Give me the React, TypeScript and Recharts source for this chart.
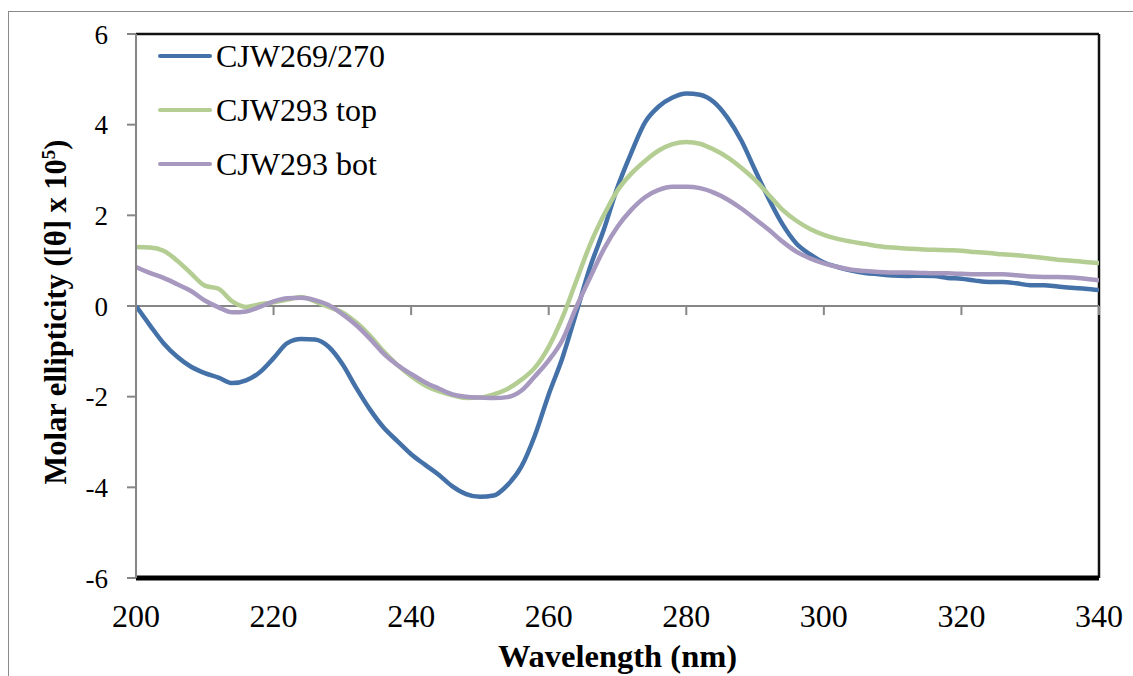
import React from 'react';
import {
  LineChart,
  Line,
  XAxis,
  YAxis,
  ReferenceLine,
  Legend,
  Label
} from 'recharts';

// wavelength grid (nm)
const wavelengths = [
  200, 202, 204, 206, 208, 210, 212, 214, 216, 218,
  220, 222, 224, 226, 228, 230, 232, 234, 236, 238,
  240, 242, 244, 246, 248, 250, 252, 254, 256, 258,
  260, 262, 264, 266, 268, 270, 272, 274, 276, 278,
  280, 282, 284, 286, 288, 290, 292, 294, 296, 298,
  300, 302, 304, 306, 308, 310, 312, 314, 316, 318,
  320, 322, 324, 326, 328, 330, 332, 334, 336, 338,
  340
];

// molar ellipticity x 10^5
const cjw269 = [
  0.0, -0.42, -0.82, -1.12, -1.34, -1.48, -1.58, -1.7, -1.64, -1.46,
  -1.15, -0.82, -0.73, -0.74, -0.9, -1.28, -1.8, -2.28, -2.68, -2.98,
  -3.27, -3.5, -3.72, -3.98, -4.15, -4.21, -4.18, -3.95, -3.55, -2.85,
  -1.95, -1.14, -0.15, 0.85, 1.68, 2.62, 3.38, 4.05, 4.4, 4.6,
  4.69, 4.66, 4.5, 4.15, 3.65, 3.0, 2.36, 1.8, 1.38, 1.14,
  0.96, 0.86, 0.78, 0.73, 0.7, 0.67, 0.66, 0.67, 0.66, 0.62,
  0.6, 0.56, 0.53, 0.53, 0.5, 0.46, 0.46, 0.43, 0.4, 0.38,
  0.35
];

const cjw293Top = [
  1.3, 1.29, 1.22, 1.0, 0.72, 0.45, 0.38, 0.1, -0.02, 0.04,
  0.08, 0.14, 0.2, 0.1, -0.02, -0.14, -0.36, -0.65, -1.0, -1.3,
  -1.55, -1.75, -1.88, -1.97, -2.03, -2.02, -1.95, -1.83, -1.63, -1.36,
  -0.9, -0.25, 0.55, 1.35, 2.0, 2.55, 2.92, 3.2, 3.43, 3.57,
  3.62, 3.58, 3.45, 3.28, 3.05, 2.78, 2.45, 2.12, 1.88, 1.7,
  1.57, 1.48, 1.42, 1.37, 1.32, 1.29, 1.27, 1.25, 1.24, 1.23,
  1.22, 1.19, 1.17, 1.14, 1.12, 1.09, 1.06, 1.02, 1.0, 0.97,
  0.95
];

const cjw293Bot = [
  0.86, 0.73, 0.62, 0.48, 0.33, 0.12, -0.03, -0.14, -0.12, -0.02,
  0.1, 0.17, 0.18, 0.13, 0.02, -0.18, -0.42, -0.72, -1.05, -1.3,
  -1.5, -1.68, -1.82, -1.95, -2.0, -2.02, -2.03, -2.01, -1.87, -1.55,
  -1.2, -0.75, -0.03, 0.62, 1.25, 1.75, 2.12, 2.4, 2.56, 2.63,
  2.63, 2.6, 2.5, 2.35, 2.15, 1.92, 1.68, 1.42, 1.2, 1.05,
  0.94, 0.86, 0.8, 0.77, 0.75, 0.74, 0.74, 0.73, 0.72, 0.72,
  0.71, 0.7, 0.7, 0.7, 0.68, 0.65, 0.64, 0.64, 0.63, 0.6,
  0.57
];

const seriesNames = ['CJW269/270', 'CJW293 top', 'CJW293 bot'];
const xTicks = [200, 220, 240, 260, 280, 300, 320, 340];
const yTicks = [-6, -4, -2, 0, 2, 4, 6];

const data = wavelengths.map((wl, i) => ({
  wl,
  a: cjw269[i],
  b: cjw293Top[i],
  c: cjw293Bot[i]
}));

const FONT = "'Liberation Serif', 'Times New Roman', serif";
const AXIS_GRAY = '#868686';

const renderYLabel = (props: any) => {
  const vb = props.viewBox || {};
  const cx = 66;
  const cy = (vb.height ? vb.y + vb.height / 2 : 306) + 6;
  return (
    <text
      x={cx}
      y={cy}
      transform={`rotate(-90 ${cx} ${cy})`}
      textAnchor="middle"
      fontFamily={FONT}
      fontWeight="bold"
      fontSize={30.5}
      fill="#000"
    >
      Molar ellipticity ([θ] x 10
      <tspan dy={-11} fontSize={19}>5</tspan>
      <tspan dy={11}>)</tspan>
    </text>
  );
};

const renderXLabel = (props: any) => {
  const vb = props.viewBox || {};
  const cx = vb.width ? vb.x + vb.width / 2 : 618;
  return (
    <text
      x={cx}
      y={667}
      textAnchor="middle"
      fontFamily={FONT}
      fontWeight="bold"
      fontSize={32.5}
      fill="#000"
    >
      Wavelength (nm)
    </text>
  );
};

const renderLegend = (props: any) => {
  const items = [...(props.payload || [])].sort(
    (p: any, q: any) => seriesNames.indexOf(p.value) - seriesNames.indexOf(q.value)
  );
  return (
    <div>
      {items.map((entry: any) => (
        <div
          key={entry.value}
          style={{ display: 'flex', alignItems: 'center', height: 54 }}
        >
          <div
            style={{
              width: 54,
              height: 4.5,
              borderRadius: 2,
              background: entry.color
            }}
          />
          <span
            style={{
              marginLeft: 4,
              fontFamily: FONT,
              fontSize: 32,
              lineHeight: 1,
              color: '#000'
            }}
          >
            {entry.value}
          </span>
        </div>
      ))}
    </div>
  );
};

const App = () => {
  return (
    <div
      style={{
        position: 'fixed',
        left: 0,
        top: 0,
        width: 1133,
        height: 676,
        background: '#fff',
        overflow: 'hidden'
      }}
    >
      {/* outer chart frame */}
      <div
        style={{
          position: 'absolute',
          left: 8,
          top: 11,
          width: 1300,
          height: 800,
          borderLeft: '1.5px solid #8a8a8a',
          borderTop: '1.5px solid #8a8a8a'
        }}
      />
      <div style={{ position: 'absolute', left: 0, top: 0 }}>
        <LineChart
          width={1133}
          height={676}
          data={data}
          margin={{ top: 34, right: 34, bottom: 38, left: 36 }}
        >
          <XAxis
            dataKey="wl"
            type="number"
            domain={[200, 340]}
            ticks={xTicks}
            allowDataOverflow
            axisLine={{ stroke: '#000', strokeWidth: 5 }}
            tickLine={false}
            tickSize={6}
            tickMargin={20}
            height={60}
            tick={{ fontFamily: FONT, fontSize: 32, fill: '#000' }}
          >
            <Label content={renderXLabel} />
          </XAxis>
          <YAxis
            type="number"
            domain={[-6, 6]}
            ticks={yTicks}
            allowDataOverflow
            width={100}
            axisLine={{ stroke: AXIS_GRAY, strokeWidth: 2 }}
            tickLine={{ stroke: AXIS_GRAY, strokeWidth: 2 }}
            tickSize={9}
            tickMargin={19}
            tick={{ fontFamily: FONT, fontSize: 27, fill: '#000' }}
          >
            <Label content={renderYLabel} />
          </YAxis>

          {/* plot frame top/right */}
          <ReferenceLine y={6} stroke="#111" strokeWidth={2.5} />
          <ReferenceLine x={340} stroke="#111" strokeWidth={2.5} />

          {/* zero line with its tick marks */}
          <ReferenceLine y={0} stroke={AXIS_GRAY} strokeWidth={2} />
          {xTicks.slice(1).map((t) => (
            <ReferenceLine
              key={t}
              segment={[
                { x: t, y: 0 },
                { x: t, y: -0.2 }
              ]}
              stroke={AXIS_GRAY}
              strokeWidth={2}
            />
          ))}

          <Legend
            layout="horizontal"
            verticalAlign="middle"
            align="center"
            content={renderLegend}
            wrapperStyle={{ left: 158, top: 29, width: 320 }}
          />

          <Line
            type="monotone"
            dataKey="a"
            name={seriesNames[0]}
            stroke="#4471A8"
            strokeWidth={4.5}
            dot={false}
            activeDot={false}
            isAnimationActive={false}
          />
          <Line
            type="monotone"
            dataKey="b"
            name={seriesNames[1]}
            stroke="#B4CD93"
            strokeWidth={4.5}
            dot={false}
            activeDot={false}
            isAnimationActive={false}
          />
          <Line
            type="monotone"
            dataKey="c"
            name={seriesNames[2]}
            stroke="#A798C0"
            strokeWidth={4.5}
            dot={false}
            activeDot={false}
            isAnimationActive={false}
          />
        </LineChart>
      </div>
    </div>
  );
};

export default App;
